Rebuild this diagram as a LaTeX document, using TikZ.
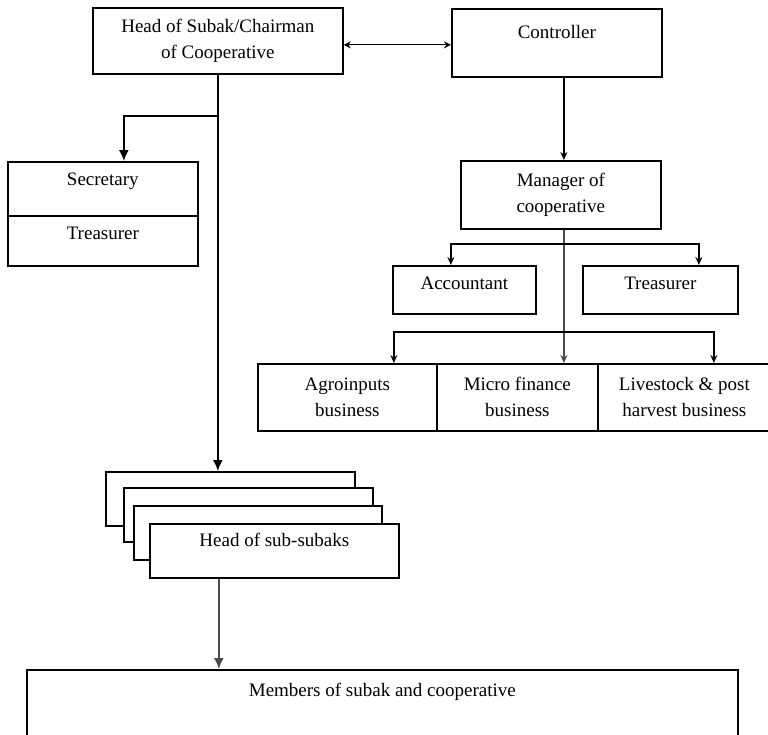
\documentclass[tikz,border=0pt]{standalone}
\usepackage{fontspec}
\setmainfont{Liberation Serif}
\usetikzlibrary{arrows.meta}
\usetikzlibrary{positioning}

\newcommand{\orgfont}{\fontsize{19}{26}\selectfont}

\begin{document}
\begin{tikzpicture}[x=1pt, y=-1pt, >=latex,
    box/.style={draw, fill=white, line width=1.7pt, inner sep=0pt, align=center,
      font=\orgfont, anchor=north west},
    link/.style={line width=1.7pt, -{Latex[length=11pt,width=10pt]}},
    greylink/.style={link, draw=gray!60!black},
    small link/.style={line width=1.3pt, -{Stealth[length=8pt,width=7pt]}},
    both link/.style={line width=1.2pt, {Stealth[length=7pt,width=7pt]}-{Stealth[length=7pt,width=7pt]}}]
  \clip (0,0) rectangle (768,734);

  % top level
  \node[box, minimum width=250pt, minimum height=66pt] at (92,7) (head)
    {Head of Subak/Chairman\\of Cooperative};
  \node[box, minimum width=210pt, text height=30pt, text depth=38pt] at (451,8) (ctrl)
    {Controller};
  \draw[both link] ([yshift=-4pt]head.east) -- ([yshift=-4pt]head.east -| ctrl.west);

  % subak side
  \node[box, minimum width=190pt, text height=24pt, text depth=30pt] at (7,161) (sec)
    {Secretary};
  \node[box, minimum width=190pt, text height=24pt, text depth=26pt] at (7,215) (treasA)
    {Treasurer};

  \coordinate (hsplit) at (217,116);

  % cooperative side
  \node[box, minimum width=200pt, minimum height=68pt] at (460,160) (mgr)
    {Manager of\\cooperative};
  \node[box, minimum width=143pt, text height=24pt, text depth=24pt] at (392,265) (acct)
    {Accountant};
  \node[box, minimum width=155pt, text height=24pt, text depth=24pt] at (582,265) (treasB)
    {Treasurer};

  \node[box, minimum width=179pt, minimum height=67pt] at (257,363) (agro)
    {Agroinputs\\business};
  \node[box, minimum width=161pt, minimum height=67pt] at (436,363) (micro)
    {Micro finance\\business};
  \node[box, minimum width=173pt, minimum height=67pt] at (597,363) (live)
    {Livestock \& post\\harvest business};

  \coordinate (msplit) at (563,244);
  \coordinate (bsplit) at (563,332);

  % sub-subaks
  \node[box, minimum width=249pt, minimum height=54pt] at (105,471) (subA) {};
  \node[box, minimum width=249pt, minimum height=54pt] at (123,487) (subB) {};
  \node[box, minimum width=248pt, minimum height=54pt] at (133,505) (subC) {};
  \node[box, minimum width=249pt, text height=23pt, text depth=31pt] at (149,523) (subD)
    {Head of sub-subaks};

  \node[box, minimum width=711pt, text height=27pt, text depth=70pt] at (26,669) (members)
    {Members of subak and cooperative};

  % connectors
  \draw[link] (head.south) -- (head.south |- subA.north);
  \draw[link] (hsplit) -| ([xshift=21pt]sec.north);
  \draw[small link] ([xshift=7pt]ctrl.south) -- ([xshift=7pt]ctrl.south |- mgr.north);
  \draw[greylink, line width=1.7pt, -{Stealth[length=8pt,width=7pt]}]
    ([xshift=3pt]mgr.south) -- ([xshift=3pt]mgr.south |- micro.north);
  \draw[small link] (msplit) -| ([xshift=-13.5pt]acct.north);
  \draw[small link] (msplit) -| ([xshift=38.5pt]treasB.north);
  \draw[small link] (bsplit) -| ([xshift=46.5pt]agro.north);
  \draw[small link] (bsplit) -| ([xshift=29.5pt]live.north);
  \draw[greylink] ([xshift=-55.5pt]subD.south) -- ([xshift=-55.5pt]subD.south |- members.north);
\end{tikzpicture}
\end{document}
